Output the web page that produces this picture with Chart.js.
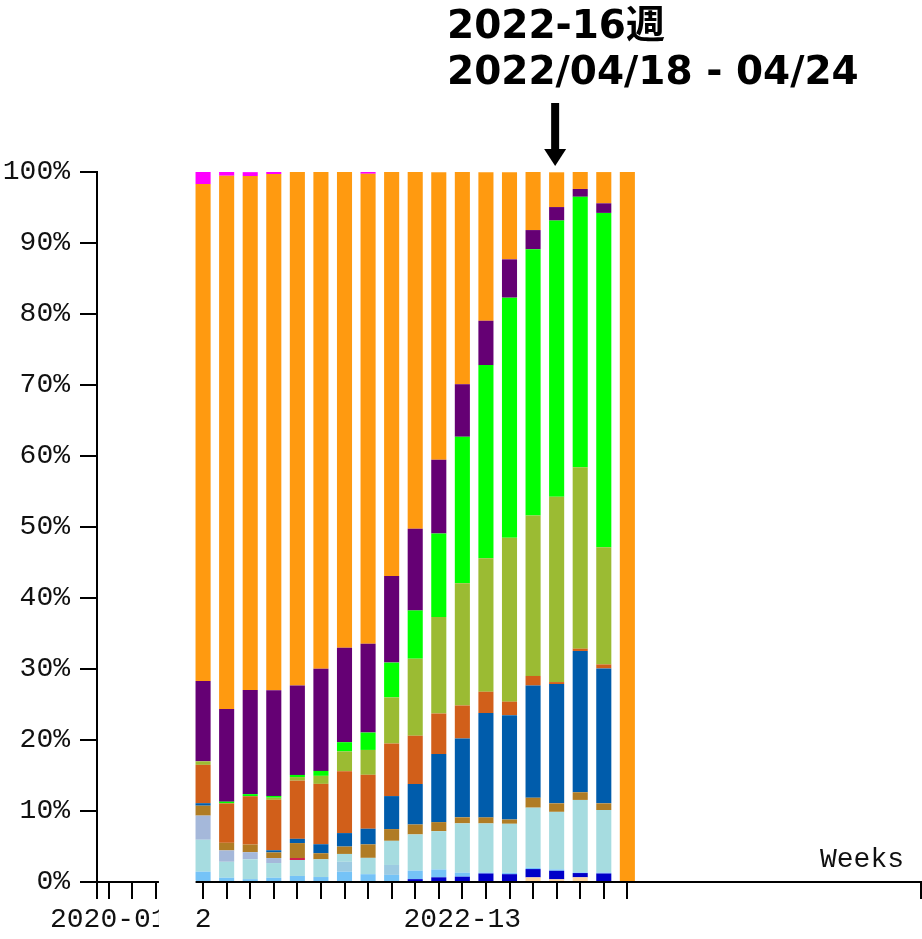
<!DOCTYPE html>
<html>
<head>
<meta charset="utf-8">
<script src="https://cdn.jsdelivr.net/npm/chart.js@4/dist/chart.umd.min.js"></script>
<style>
  html, body { margin: 0; padding: 0; background: #fff; overflow: hidden; }
  canvas { display: block; }
</style>
</head>
<body>
<canvas id="chart" width="922" height="939"></canvas>
<script>
// weeks on the axis: a few from 2020, the break, the weeks with bars, then empty weeks
const leadWeeks = ['2020-01', '2020-02', '2020-03', ''];
const weeks = ['2022-02', '2022-03', '2022-04', '2022-05', '2022-06', '2022-07', '2022-08',
               '2022-09', '2022-10', '2022-11', '2022-12', '2022-13', '2022-14', '2022-15',
               '2022-16', '2022-17', '2022-18', '2022-19', '2022-20'];
const tailWeeks = ['2022-21', '2022-22', '2022-23', '2022-24', '2022-25', '2022-26',
                   '2022-27', '2022-28', '2022-29', '2022-30', '2022-31', '2022-32'];

// share of each lineage per week, in %, bottom of the stack first
const peach     = [0, 0, 0, 0, 0, 0, 0, 0, 0, 0, 0, 0, 0, 0, 0.65, 0.38, 0.66, 0, 0];
const darkBlue  = [0, 0, 0, 0, 0, 0, 0, 0, 0, 0.4, 0.66, 0.75, 1.2, 1.1, 1.17, 1.2, 0.6, 1.2, 0];
const skyBlue   = [1.45, 0.6, 0.4, 0.6, 0.85, 0.7, 1.45, 1.1, 1.0, 1.2, 1.1, 0.56, 0.15, 0.2, 0.2, 0.2, 0.1, 0.14, 0];
const paleBlue  = [0, 0, 0, 0, 0, 0, 1.4, 0, 1.4, 0, 0, 0, 0, 0, 0, 0, 0, 0, 0];
const lightCyan = [4.5, 2.25, 2.8, 2.07, 2.25, 2.5, 1.1, 2.3, 3.4, 5.1, 5.4, 6.95, 6.9, 6.9, 8.45, 8.1, 10.2, 8.8, 0];
const lavender  = [3.4, 1.6, 1.0, 0.7, 0, 0, 0, 0, 0, 0, 0, 0, 0, 0, 0, 0, 0, 0, 0];
const crimson   = [0, 0, 0, 0, 0.28, 0, 0, 0, 0, 0, 0, 0, 0, 0, 0, 0, 0, 0, 0];
const goldenrod = [1.4, 1.07, 1.08, 0.8, 2.1, 0.85, 1.04, 1.9, 1.65, 1.4, 1.27, 0.85, 0.85, 0.6, 1.4, 1.2, 1.08, 0.94, 0];
const blue      = [0.35, 0, 0, 0.3, 0.6, 1.27, 1.9, 2.2, 4.65, 5.7, 9.6, 11.1, 14.7, 14.7, 15.8, 16.8, 19.9, 19.0, 0];
const orangeRed = [5.4, 5.55, 6.8, 7.1, 8.2, 8.5, 8.7, 7.6, 7.4, 6.8, 5.7, 4.65, 3.0, 1.9, 1.35, 0.28, 0.32, 0.56, 0];
const olive     = [0.5, 0, 0, 0.3, 0.5, 1.13, 2.8, 3.5, 6.5, 10.85, 13.6, 17.2, 18.8, 23.1, 22.6, 26.1, 25.55, 16.5, 0];
const green     = [0, 0.25, 0.3, 0.25, 0.3, 0.7, 1.3, 2.45, 4.9, 6.8, 11.75, 20.65, 27.2, 33.8, 37.5, 38.9, 38.1, 47.1, 0];
const purple    = [11.3, 13.05, 14.65, 14.9, 12.6, 14.4, 13.3, 12.5, 12.2, 11.5, 10.4, 7.4, 6.25, 5.4, 2.7, 1.9, 1.1, 1.35, 0];
const orange    = [70.0, 75.1, 72.4, 72.7, 72.35, 69.95, 67.0, 66.2, 56.9, 50.3, 40.5, 29.9, 20.9, 12.25, 8.2, 4.9, 2.45, 4.4, 100];
const magenta   = [1.8, 0.55, 0.55, 0.28, 0, 0, 0, 0.25, 0, 0, 0, 0, 0, 0, 0, 0, 0, 0, 0];

const yTicks = [0, 10, 20, 30, 40, 50, 60, 70, 80, 90, 100];

const series = [
    [peach, '#ffd6a0'], [darkBlue, '#0000c8'], [skyBlue, '#75c3f7'], [paleBlue, '#9ccbe2'],
    [lightCyan, '#a6dce0'], [lavender, '#a5b8da'], [crimson, '#d0204c'], [goldenrod, '#b07c24'],
    [blue, '#005cab'], [orangeRed, '#d15f1a'], [olive, '#9bbb33'], [green, '#00ff00'],
    [purple, '#650074'], [orange, '#ff9a10'], [magenta, '#ff00ff']
];

const labels = [...leadWeeks, ...weeks, ...tailWeeks];
const pad = arr => [...leadWeeks.map(() => null), ...arr, ...tailWeeks.map(() => null)];
const lead = leadWeeks.length;
const hasTick = i => i < 3 || (i >= lead && i < lead + weeks.length);

// only these week labels survive in the picture; '2' is what is left of a label cut by the axis break
const tickText = { '2020-01': '2020-01', '2022-02': '2', '2022-13': '2022-13' };

const arrowAt = 15;   // bar under the arrow
const monoFont = { family: 'Liberation Mono', size: 28 };

const extras = {
    id: 'extras',
    afterDraw(chart) {
        const { ctx, chartArea: a, scales: { x } } = chart;
        ctx.save();
        ctx.strokeStyle = '#000';
        ctx.lineWidth = 2;
        ctx.beginPath();
        ctx.moveTo(a.left, a.bottom); ctx.lineTo(a.left, a.bottom + 17);
        ctx.moveTo(a.right - 1, a.bottom); ctx.lineTo(a.right - 1, a.bottom + 17);
        ctx.stroke();

        // break in the axis between 2020 and 2022
        const g0 = x.getPixelForValue(2) + 3;
        const g1 = x.getPixelForValue(lead) - 7.5;
        ctx.fillStyle = '#fff';
        ctx.fillRect(g0, a.bottom - 2, g1 - g0, chart.height - a.bottom + 2);

        ctx.fillStyle = '#111';
        ctx.font = '28px "Liberation Mono"';
        ctx.fillText('Weeks', 820, 867);

        ctx.fillStyle = '#000';
        ctx.font = 'bold 39px "DejaVu Sans", "Noto Sans CJK JP"';
        ctx.fillText('2022-16週', 447, 38);
        ctx.fillText('2022/04/18 - 04/24', 447, 84);

        const cx = x.getPixelForValue(lead + arrowAt) - 1.5;
        ctx.fillRect(cx - 4, 103, 8, 48);
        ctx.beginPath();
        ctx.moveTo(cx - 11, 149); ctx.lineTo(cx + 11, 149); ctx.lineTo(cx, 166);
        ctx.closePath();
        ctx.fill();
        ctx.restore();
    }
};

new Chart(document.getElementById('chart'), {
    type: 'bar',
    data: {
        labels: labels,
        datasets: series.map(([d, c]) => ({
            data: pad(d), backgroundColor: c, borderWidth: 0,
            barPercentage: 0.64, categoryPercentage: 1.0
        }))
    },
    options: {
        responsive: false,
        animation: false,
        layout: { padding: { top: 172, left: 0, right: 0, bottom: 0 } },
        plugins: { legend: { display: false }, tooltip: { enabled: false } },
        scales: {
            x: {
                stacked: true,
                offset: true,
                grid: {
                    offset: false, drawOnChartArea: false, tickLength: 17, lineWidth: 2,
                    color: c => hasTick(c.index) ? '#000' : 'rgba(0,0,0,0)'
                },
                border: { color: '#000', width: 2 },
                ticks: {
                    autoSkip: false, maxRotation: 0, padding: 4, color: '#111', font: monoFont,
                    callback: (v, i) => tickText[labels[i]] || ''
                },
                afterFit: s => { s.height = 57; }
            },
            y: {
                stacked: true,
                min: 0,
                max: 100,
                afterBuildTicks: s => { s.ticks = yTicks.map(v => ({ value: v })); },
                grid: { drawOnChartArea: false, tickLength: 17, lineWidth: 2, color: '#000' },
                border: { color: '#000', width: 2 },
                ticks: { padding: 10, color: '#111', font: monoFont, callback: v => v + '%' },
                afterFit: s => { s.width = 97; }
            }
        }
    },
    plugins: [extras]
});
</script>
</body>
</html>
